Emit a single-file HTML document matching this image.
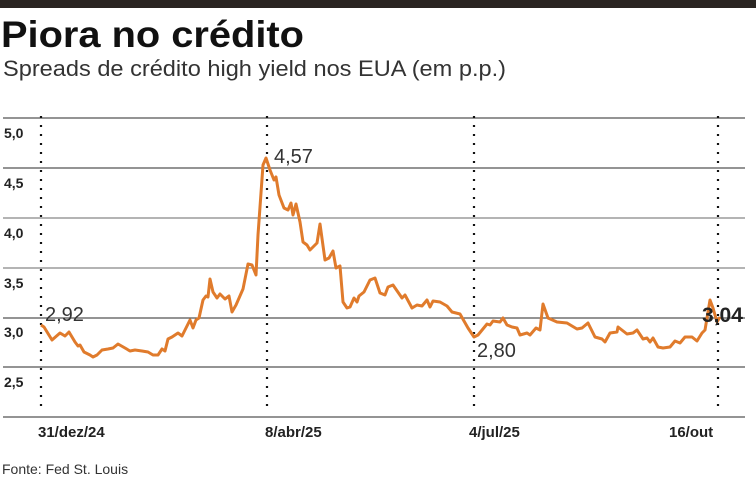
<!DOCTYPE html>
<html><head><meta charset="utf-8"><style>
body{margin:0;width:756px;height:476px;background:#fff;overflow:hidden;font-family:"Liberation Sans",sans-serif}
</style></head><body>
<svg width="756" height="476" xmlns="http://www.w3.org/2000/svg" font-family="Liberation Sans, sans-serif">
<rect x="0" y="0" width="756" height="8" fill="#2a2522"/>
<text x="1" y="47" font-size="37" font-weight="bold" fill="#111" textLength="303" lengthAdjust="spacingAndGlyphs">Piora no crédito</text>
<text x="3" y="76" font-size="22" fill="#333" textLength="503" lengthAdjust="spacingAndGlyphs">Spreads de crédito high yield nos EUA (em p.p.)</text>
<g stroke-width="1.3">
<line x1="3" y1="118" x2="745" y2="118" stroke="#555"/>
<line x1="3" y1="168" x2="745" y2="168" stroke="#555"/>
<line x1="3" y1="218" x2="745" y2="218" stroke="#888"/>
<line x1="3" y1="268" x2="745" y2="268" stroke="#888"/>
<line x1="3" y1="318" x2="745" y2="318" stroke="#555"/>
<line x1="3" y1="367" x2="745" y2="367" stroke="#555"/>
<line x1="3" y1="417" x2="745" y2="417" stroke="#555"/>
</g>
<g stroke="#111" stroke-width="2.2" stroke-dasharray="2,7">
<line x1="41" y1="116" x2="41" y2="412"/>
<line x1="267" y1="116" x2="267" y2="412"/>
<line x1="474" y1="116" x2="474" y2="412"/>
<line x1="718" y1="116" x2="718" y2="412"/>
</g>
<g font-size="14" font-weight="bold" fill="#222">
<text x="4" y="138">5,0</text><text x="4" y="188">4,5</text><text x="4" y="238">4,0</text>
<text x="4" y="288">3,5</text><text x="4" y="337">3,0</text><text x="4" y="387">2,5</text>
</g>
<g font-size="15" font-weight="bold" fill="#222">
<text x="38" y="437">31/dez/24</text><text x="265" y="437">8/abr/25</text>
<text x="469" y="437">4/jul/25</text><text x="669" y="437">16/out</text>
</g>
<polyline fill="none" stroke="#e07b2c" stroke-width="3" stroke-linejoin="round" points="41,325 44,327 52,340 60,333 65,336 69,332 75,342 78,346 80,345 84,352 90,355 93,357 97,355 102,350 108,349 113,348 118,344 125,348 130,351 135,350 142,351 148,352 153,355 158,355 162,349 165,351 168,339 172,337 178,333 182,336 186,328 190,320 193,328 196,320 199,318 203,300 206,296 208,297 210,279 213,292 217,298 220,294 225,299 229,296 232,312 236,305 243,289 248,264 252,265 256,275 258,235 263,165 266,158 270,170 274,180 276,177 279,195 284,208 288,210 291,203 293,215 296,204 300,222 303,242 307,245 310,250 314,246 317,243 320,224 325,260 329,258 333,251 336,268 340,266 343,302 347,308 350,307 354,298 357,302 359,296 364,292 370,280 375,278 380,293 385,295 388,287 393,285 402,298 405,295 412,308 417,305 422,306 427,300 430,307 433,301 440,302 447,306 452,312 460,314 468,328 474,337 478,335 487,324 490,325 493,321 500,322 503,318 507,325 512,327 517,328 520,335 527,333 530,335 536,328 540,330 543,304 548,318 557,322 567,323 577,329 582,328 588,323 595,337 602,339 605,342 610,333 617,332 618,327 627,334 633,333 637,330 643,339 647,338 650,342 653,338 658,347 663,348 670,347 675,341 680,343 685,337 692,337 697,341 702,333 705,330 710,300 713,308 717,322 720,317"/>
<g font-size="20" fill="#333">
<text x="45" y="321">2,92</text><text x="274" y="163">4,57</text><text x="477" y="357">2,80</text>
</g>
<text x="702" y="322" font-size="21" font-weight="bold" fill="#222">3,04</text>
<text x="2" y="474" font-size="14" fill="#333">Fonte: Fed St. Louis</text>
</svg>
</body></html>
